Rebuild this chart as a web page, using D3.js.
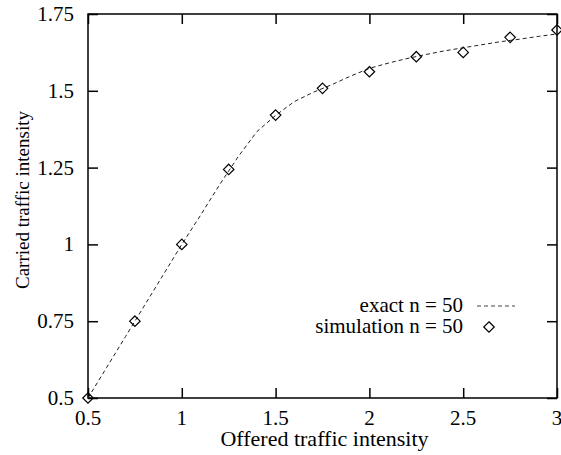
<!DOCTYPE html>
<html>
<head>
<meta charset="utf-8">
<script src="https://cdn.jsdelivr.net/npm/d3@7"></script>
<style>
  body { margin: 0; background: #fff; }
  text { font-family: "Liberation Serif", "DejaVu Serif", serif; fill: #000; }
</style>
</head>
<body>
<svg width="561" height="455"></svg>
<script>
// exact curve, n = 50
var exactX = [0.5, 0.6, 0.7, 0.8, 0.9, 1.0, 1.1, 1.2, 1.3, 1.4, 1.5, 1.6, 1.7, 1.8, 1.9,
              2.0, 2.1, 2.2, 2.3, 2.4, 2.5, 2.6, 2.7, 2.8, 2.9, 3.0];
var exactY = [0.5, 0.6, 0.7, 0.8, 0.9, 1.0, 1.095, 1.193, 1.285, 1.367, 1.42, 1.465, 1.495, 1.52, 1.548,
              1.573, 1.59, 1.605, 1.618, 1.63, 1.64, 1.65, 1.66, 1.668, 1.677, 1.685];

// simulation, n = 50
var simX = [0.5, 0.75, 1.0, 1.25, 1.5, 1.75, 2.0, 2.25, 2.5, 2.75, 3.0];
var simY = [0.5, 0.75, 1.0, 1.244, 1.421, 1.508, 1.562, 1.611, 1.625, 1.674, 1.698];

var xTicks = [0.5, 1, 1.5, 2, 2.5, 3];
var yTicks = [0.5, 0.75, 1, 1.25, 1.5, 1.75];

var svg = d3.select("svg"),
    mLeft = 88, mRight = 557, mTop = 14, mBottom = 398,
    fs = "21px";

var x = d3.scaleLinear().domain([0.5, 3]).range([mLeft, mRight]);
var y = d3.scaleLinear().domain([0.5, 1.75]).range([mBottom, mTop]);

var fmt = function(d) { return String(d); };

// axes with inward ticks on all four sides
var tickLen = 10;
svg.append("g").attr("transform", "translate(0," + mBottom + ")")
    .call(d3.axisBottom(x).tickValues(xTicks).tickSizeInner(-tickLen).tickSizeOuter(0).tickFormat(""));
svg.append("g").attr("transform", "translate(0," + mTop + ")")
    .call(d3.axisTop(x).tickValues(xTicks).tickSizeInner(-tickLen).tickSizeOuter(0).tickFormat(""));
svg.append("g").attr("transform", "translate(" + mLeft + ",0)")
    .call(d3.axisLeft(y).tickValues(yTicks).tickSizeInner(-tickLen).tickSizeOuter(0).tickFormat(""));
svg.append("g").attr("transform", "translate(" + mRight + ",0)")
    .call(d3.axisRight(y).tickValues(yTicks).tickSizeInner(-tickLen).tickSizeOuter(0).tickFormat(""));
svg.selectAll(".domain").remove();
svg.selectAll(".tick line").attr("stroke", "#000").attr("stroke-width", 1.5);

svg.append("rect")
    .attr("x", mLeft).attr("y", mTop)
    .attr("width", mRight - mLeft).attr("height", mBottom - mTop)
    .attr("fill", "none").attr("stroke", "#000").attr("stroke-width", 1.5);

// tick labels
svg.selectAll(".xlab").data(xTicks).enter().append("text")
    .attr("x", function(d) { return x(d); })
    .attr("y", 425)
    .attr("text-anchor", "middle")
    .style("font-size", fs)
    .text(fmt);

svg.selectAll(".ylab").data(yTicks).enter().append("text")
    .attr("x", 74)
    .attr("y", function(d) { return y(d) + 7; })
    .attr("text-anchor", "end")
    .style("font-size", fs)
    .text(fmt);

// axis titles
svg.append("text")
    .attr("x", (mLeft + mRight) / 2 + 2).attr("y", 446)
    .attr("text-anchor", "middle")
    .style("font-size", "22px")
    .text("Offered traffic intensity");

svg.append("text")
    .attr("transform", "translate(29,200) rotate(-90)")
    .attr("text-anchor", "middle")
    .style("font-size", "19px")
    .text("Carried traffic intensity");

// exact line
var line = d3.line()
    .x(function(d) { return x(d[0]); })
    .y(function(d) { return y(d[1]); });

svg.append("path")
    .datum(d3.zip(exactX, exactY))
    .attr("d", line)
    .attr("fill", "none")
    .attr("stroke", "#222")
    .attr("stroke-width", 1)
    .attr("stroke-dasharray", "4,3");

// simulation diamonds
var diamond = d3.symbol().type(d3.symbolDiamond2).size(70);
svg.selectAll(".pt").data(d3.zip(simX, simY)).enter().append("path")
    .attr("d", diamond)
    .attr("transform", function(d) { return "translate(" + x(d[0]) + "," + y(d[1]) + ")"; })
    .attr("fill", "none")
    .attr("stroke", "#000")
    .attr("stroke-width", 1.2);

// legend
var lg = svg.append("g");
lg.append("text").attr("x", 463).attr("y", 312).attr("text-anchor", "end")
    .style("font-size", fs).text("exact n = 50");
lg.append("line").attr("x1", 477).attr("x2", 515).attr("y1", 306).attr("y2", 306)
    .attr("stroke", "#444").attr("stroke-width", 1).attr("stroke-dasharray", "4,3");
lg.append("text").attr("x", 463).attr("y", 333).attr("text-anchor", "end")
    .style("font-size", fs).text("simulation n = 50");
lg.append("path").attr("d", diamond)
    .attr("transform", "translate(489,327)")
    .attr("fill", "none").attr("stroke", "#000").attr("stroke-width", 1.2);
</script>
</body>
</html>
